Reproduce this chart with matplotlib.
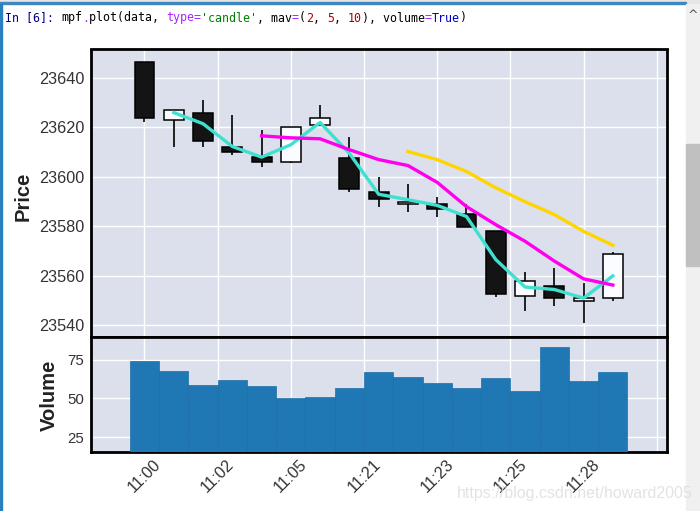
# -*- coding: utf-8 -*-
import numpy as np
import matplotlib
matplotlib.use('Agg')
import matplotlib.pyplot as plt
from matplotlib.patches import Rectangle

W, H = 700, 511

# candles
opens = [23646.5, 23623, 23626, 23612, 23608, 23606, 23621, 23607.5, 23594, 23589, 23589, 23585.2,
         23578, 23552, 23556, 23550, 23551]
closes = [23624, 23627, 23614.7, 23610, 23606, 23620, 23624, 23595, 23591, 23590, 23587, 23579.6,
          23552.5, 23558, 23551, 23551, 23569]
highs = [23646.5, 23627, 23631, 23625, 23619, 23620, 23629, 23616, 23600, 23597, 23592, 23589,
         23578, 23561.5, 23563, 23557, 23569.7]
lows = [23622, 23612, 23612, 23609, 23604, 23605.5, 23621, 23594, 23588, 23586, 23584, 23579.6,
        23551.5, 23546, 23548, 23541, 23550]
volumes = [74, 68, 59, 62, 58, 50, 51, 57, 67, 64, 60, 57, 63, 55, 83, 61, 67]

mav2 = [23626, 23621.5, 23612.3, 23608, 23613, 23622, 23609.5, 23593, 23590.8, 23588.5, 23584,
        23566.6, 23555.5, 23554.5, 23551, 23560]
mav5 = [23616.6, 23615.8, 23615.4, 23611, 23607, 23604.6, 23597.8, 23588, 23580.7, 23574, 23566,
        23558.8, 23556.3]
mav10 = [23610.3, 23607, 23602.2, 23595.6, 23590, 23584.8, 23578, 23572.4]

price_ticks = [23540, 23560, 23580, 23600, 23620, 23640]
vol_ticks = [25, 50, 75]
x_ticks = [0, 2.5, 5, 7.5, 10, 12.5, 15, 17.5]
x_labels = ['11:00', '11:02', '11:05', '11:21', '11:23', '11:25', '11:28', '']

code_parts = [('mpf', '#000000'), ('.', '#aa22ff'), ('plot(data, ', '#000000'), ('type', '#aa22ff'),
              ('=', '#aa22ff'), ("'candle'", '#008000'), (', mav', '#000000'), ('=', '#aa22ff'),
              ('(', '#000000'), ('2', '#aa0000'), (', ', '#000000'), ('5', '#aa0000'), (', ', '#000000'),
              ('10', '#aa0000'), ('), volume', '#000000'), ('=', '#aa22ff'), ('True', '#0000cc'),
              (')', '#000000')]

plt.rcParams['font.family'] = ['Liberation Sans', 'DejaVu Sans']


def px_axes(fig, left, top, right, bottom):
    return fig.add_axes([left / W, 1 - bottom / H, (right - left) / W, (bottom - top) / H])


def style(ax, size):
    ax.set_facecolor('#dbe0ec')
    ax.grid(color='white', linewidth=1.0)
    ax.set_axisbelow(True)
    ax.tick_params(length=0, labelsize=size, labelcolor='#333333')
    for s in ax.spines.values():
        s.set_linewidth(2)
        s.set_color('black')


fig = plt.figure(figsize=(W / 100, H / 100), dpi=100)

# notebook window around the plot
fig.patches.append(Rectangle((0, 1 - 3 / H), 1, 3 / H, transform=fig.transFigure, color='#e6e6e6'))
fig.patches.append(Rectangle((0, 1 - 4 / H), 686 / W, 1.5 / H, transform=fig.transFigure, color='#3f87c0'))
fig.patches.append(Rectangle((0, 0), 1.5 / W, 1 - 4 / H, transform=fig.transFigure, color='#2a7fc0'))
fig.patches.append(Rectangle((686 / W, 0), 14 / W, 1 - 4 / H, transform=fig.transFigure, color='#f0f0f0'))
fig.patches.append(Rectangle((686 / W, 1 - 266 / H), 14 / W, 122 / H, transform=fig.transFigure, color='#c0c0c0'))
fig.text(693 / W, 1 - 15 / H, '^', fontsize=9, color='#505050', ha='center', va='center', family='DejaVu Sans')

fig.text(5 / W, 1 - 18 / H, 'In [6]:', family='DejaVu Sans Mono', fontsize=8.4, color='#000080', va='center')
col = 0
for part, c in code_parts:
    fig.text((61 + 7 * col) / W, 1 - 18 / H, part, family='DejaVu Sans Mono', fontsize=8.4, color=c, va='center')
    col += len(part)

ax = px_axes(fig, 91, 49.5, 667, 336.5)
vax = px_axes(fig, 91, 336.5, 667, 451.5)
style(ax, 11.7)
style(vax, 10.8)

idx = np.arange(len(closes))
op = np.array(opens)
cl = np.array(closes)
body_colors = ['#fafcff' if c >= o else '#141414' for o, c in zip(op, cl)]

ax.vlines(idx, lows, highs, color='black', linewidth=1.2, zorder=2)
ax.bar(idx, np.abs(cl - op), bottom=np.minimum(op, cl), width=0.68, color=body_colors,
       edgecolor='black', linewidth=1.1, zorder=3)
ax.plot(idx[1:], mav2, color='#40e0d0', linewidth=2.4, zorder=4)
ax.plot(idx[4:], mav5, color='#ff00ee', linewidth=2.4, zorder=4)
ax.plot(idx[9:], mav10, color='#ffd500', linewidth=2.4, zorder=4)

ax.set_xlim(-1.827, 17.85)
ax.set_ylim(23535.5, 23651.5)
ax.set_xticks(x_ticks)
ax.set_xticklabels([])
ax.set_yticks(price_ticks)
ax.set_yticklabels([str(t) for t in price_ticks])
ax.tick_params(axis='y', pad=4.5)

vax.bar(idx, volumes, width=1.0, color='#1f77b4', edgecolor='#1c6ea8', linewidth=0.5, zorder=3)
vax.set_xlim(-1.827, 17.85)
vax.set_ylim(15.8, 90)
vax.set_yticks(vol_ticks)
vax.set_xticks(x_ticks)
vax.set_xticklabels(x_labels, rotation=45, ha='center', fontsize=11.7)
vax.tick_params(axis='x', pad=4)
vax.tick_params(axis='y', pad=5)

fig.text(23.5 / W, 1 - 196 / H, 'Price', rotation=90, fontsize=14.6, fontweight='bold', color='#222222',
         ha='center', va='center')
fig.text(49.5 / W, 1 - 395.5 / H, 'Volume', rotation=90, fontsize=14.6, fontweight='bold', color='#222222',
         ha='center', va='center')

# csdn watermark
fig.text(457 / W, 1 - 493 / H, 'https://blog.csdn.net/howard2005', fontsize=11.5, color='#dcdcdc',
         alpha=0.8, ha='left', va='center', zorder=10)

fig.savefig('out.png', dpi=100)
